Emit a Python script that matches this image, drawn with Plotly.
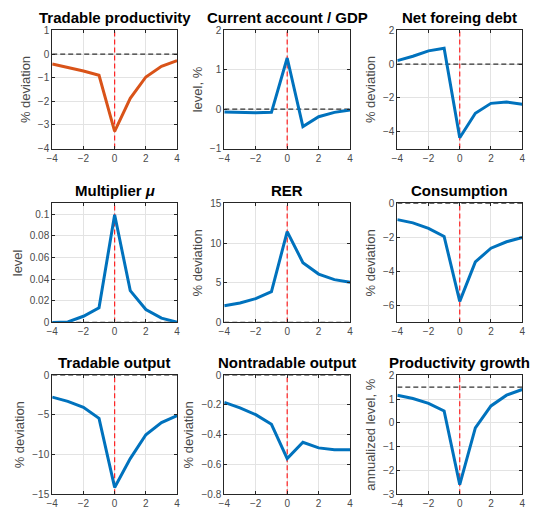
import plotly.graph_objects as go

# Horizon (quarters relative to the shock)
horizon = [-4, -3, -2, -1, 0, 1, 2, 3, 4]

# Impulse responses, one list per panel
tradable_productivity = [-0.42, -0.56, -0.72, -0.90, -3.27, -1.87, -0.97, -0.52, -0.28]
current_account_gdp = [-0.07, -0.08, -0.09, -0.08, 1.30, -0.44, -0.19, -0.08, -0.02]
net_foreign_debt = [0.21, 0.47, 0.79, 0.94, -4.36, -2.91, -2.32, -2.24, -2.37]
multiplier_mu = [0.0, 0.0005, 0.0057, 0.0135, 0.0994, 0.0294, 0.012, 0.004, 0.0003]
rer = [2.1, 2.45, 3.0, 3.87, 11.44, 7.53, 6.09, 5.39, 5.06]
consumption = [-0.96, -1.15, -1.47, -1.95, -5.76, -3.44, -2.64, -2.26, -2.01]
tradable_output = [-2.76, -3.3, -4.04, -5.44, -14.13, -10.5, -7.5, -5.97, -5.1]
nontradable_output = [-0.182, -0.22, -0.265, -0.33, -0.56, -0.45, -0.488, -0.50, -0.50]
productivity_growth = [1.16, 1.02, 0.82, 0.50, -2.59, -0.21, 0.71, 1.16, 1.40]

titles = ["Tradable productivity", "Current account / GDP", "Net foreing debt",
          "Multiplier <i>μ</i>", "RER", "Consumption",
          "Tradable output", "Nontradable output", "Productivity growth"]
ylabels = ["% deviation", "level, %", "% deviation",
           "level", "% deviation", "% deviation",
           "% deviation", "% deviation", "annualized level, %"]
series = [tradable_productivity, current_account_gdp, net_foreign_debt,
          multiplier_mu, rer, consumption,
          tradable_output, nontradable_output, productivity_growth]
colors = ["#D95319"] + ["#0072BD"] * 8
reference_levels = [0, 0, 0, 0, 0, 0, 0, 0, 1.5]
y_ranges = [[-4, 1], [-1, 2], [-5, 2], [0, 0.11], [0, 15], [-7, 0],
            [-15, 0], [-0.8, 0], [-3, 2]]
y_ticks = [[-4, -3, -2, -1, 0, 1], [-1, 0, 1, 2], [-4, -2, 0, 2],
           [0, 0.02, 0.04, 0.06, 0.08, 0.1], [0, 5, 10, 15], [-6, -4, -2, 0],
           [-15, -10, -5, 0], [-0.8, -0.6, -0.4, -0.2, 0], [-3, -2, -1, 0, 1, 2]]
x_ticks = [-4, -2, 0, 2, 4]

W, H = 535, 515
col_px = [(47, 174), (222, 350), (398, 525)]
row_px = [(25, 146), (202, 324), (378, 500)]

fig = go.Figure()
layout = {}
annotations = []
font_family = "Liberation Sans, Arial, Helvetica, sans-serif"
axis_color = "#262626"
label_color = "#4a4a4a"

for i in range(9):
    r, c = divmod(i, 3)
    k = "" if i == 0 else str(i + 1)
    xd = [col_px[c][0] / W, col_px[c][1] / W]
    yd = [1 - row_px[r][1] / H, 1 - row_px[r][0] / H]
    xa = "x" + k
    ya = "y" + k

    # reference level (dashed black)
    fig.add_trace(go.Scatter(
        x=[horizon[0], horizon[-1]], y=[reference_levels[i]] * 2,
        mode="lines", line=dict(color="#333333", width=1.2, dash="5px,3px"),
        xaxis=xa, yaxis=ya, showlegend=False, hoverinfo="skip", cliponaxis=False))
    # shock date (dashed red)
    fig.add_trace(go.Scatter(
        x=[0, 0], y=y_ranges[i], mode="lines",
        line=dict(color="#ff2020", width=1.2, dash="5px,3px"),
        xaxis=xa, yaxis=ya, showlegend=False, hoverinfo="skip"))
    # response
    fig.add_trace(go.Scatter(
        x=horizon, y=series[i], mode="lines",
        line=dict(color=colors[i], width=3),
        xaxis=xa, yaxis=ya, showlegend=False))

    common = dict(showline=True, mirror="ticks", linecolor=axis_color, linewidth=1,
                  ticks="inside", ticklen=3, tickcolor=axis_color,
                  showgrid=True, gridcolor="#e3e3e3", gridwidth=1, zeroline=False,
                  tickfont=dict(size=10, color=label_color, family=font_family))
    layout["xaxis" + k] = dict(domain=xd, anchor=ya, range=[-4, 4],
                               tickvals=x_ticks, **common)
    layout["yaxis" + k] = dict(domain=yd, anchor=xa, range=y_ranges[i],
                               tickvals=y_ticks[i],
                               title=dict(text=ylabels[i], standoff=4,
                                          font=dict(size=13, color=label_color,
                                                    family=font_family)),
                               **common)
    annotations.append(dict(
        text="<b>" + titles[i] + "</b>", x=(xd[0] + xd[1]) / 2, y=yd[1],
        xref="paper", yref="paper", xanchor="center", yanchor="bottom",
        yshift=2, showarrow=False,
        font=dict(size=15, color="black", family=font_family)))

fig.update_layout(
    width=W, height=H, margin=dict(l=0, r=0, t=0, b=0),
    paper_bgcolor="white", plot_bgcolor="white",
    annotations=annotations, **layout)

fig.write_html("out.html")
